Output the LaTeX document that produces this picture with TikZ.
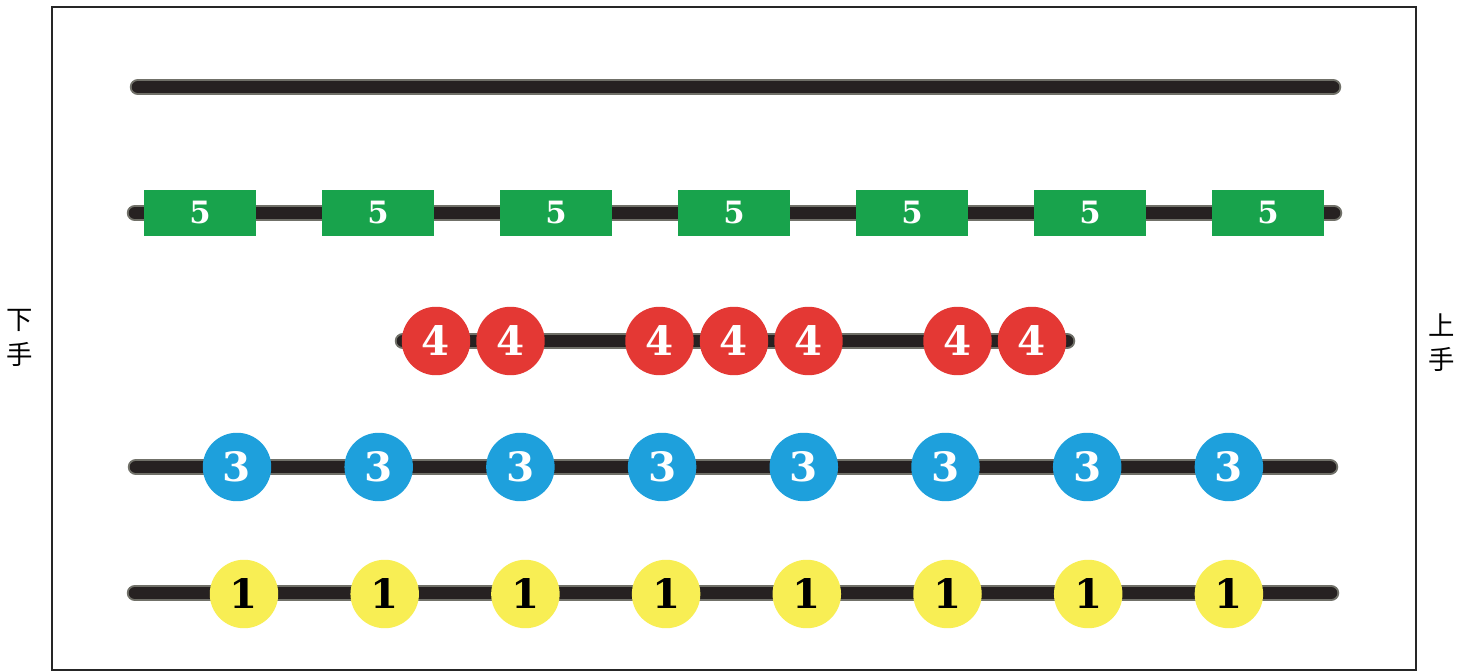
\documentclass[tikz,border=0pt]{standalone}
\usepackage{fontspec}
\newfontfamily\cjkfont{Noto Sans CJK SC}
\newfontfamily\digitfont{DejaVu Serif}
\definecolor{rodgray}{RGB}{112,112,104}
\definecolor{roddark}{RGB}{38,33,33}
\definecolor{beadgreen}{RGB}{24,163,76}
\definecolor{beadred}{RGB}{228,56,52}
\definecolor{beadblue}{RGB}{30,160,220}
\definecolor{beadyellow}{RGB}{248,238,84}

\begin{document}
\begin{tikzpicture}[x=0.02cm,y=-0.02cm,
    rodout/.style={line width=0.33cm,rodgray,line cap=round},
    rodin/.style={line width=0.25cm,roddark,line cap=round},
    ball/.style={circle,minimum size=1.37cm,inner sep=0pt,font=\digitfont\fontsize{23}{24}\selectfont\bfseries},
    tile/.style={rectangle,minimum width=2.26cm,minimum height=0.92cm,inner sep=0pt,fill=beadgreen,text=white,font=\digitfont\fontsize{17.5}{18}\selectfont\bfseries},
    side/.style={align=center,font=\cjkfont\fontsize{15}{19.5}\selectfont}]
            \useasboundingbox (0,0) rectangle (1472,672);
            \fill[white] (0,0) rectangle (1472,672);
            \draw[line width=1.1pt, black!85] (52,7) rectangle (1416,670);

            \coordinate (r1a) at (138,87);  \coordinate (r1b) at (1333,87);
            \coordinate (r2a) at (135,213); \coordinate (r2b) at (1334,213);
            \coordinate (r3a) at (403,341); \coordinate (r3b) at (1067,341);
            \coordinate (r4a) at (136,467); \coordinate (r4b) at (1330,467);
            \coordinate (r5a) at (135,593); \coordinate (r5b) at (1331,593);
            \foreach \r in {1,...,5}{
                \draw[rodout] (r\r a)--(r\r b);
                \draw[rodin] (r\r a)--(r\r b);
            }

            \foreach \i in {0,...,6}
                \node[tile] (five\i) at (200+178*\i,213) {5};
            \foreach \k [count=\i] in {0,1,3,4,5,7,8}
                \node[ball,fill=beadred,text=white] (four\i) at (436+74.5*\k,341) {4};
            \foreach \i in {0,...,7}{
                \node[ball,fill=beadblue,text=white] (three\i) at (237+141.7*\i,467) {3};
                \node[ball,fill=beadyellow,text=black] (one\i) at (244+140.7*\i,594) {1};
            }

            \node[side] (low) at (20,338) {下\\手};
            \node[side] (high) at (1442,343) {上\\手};
        \end{tikzpicture}
\end{document}
